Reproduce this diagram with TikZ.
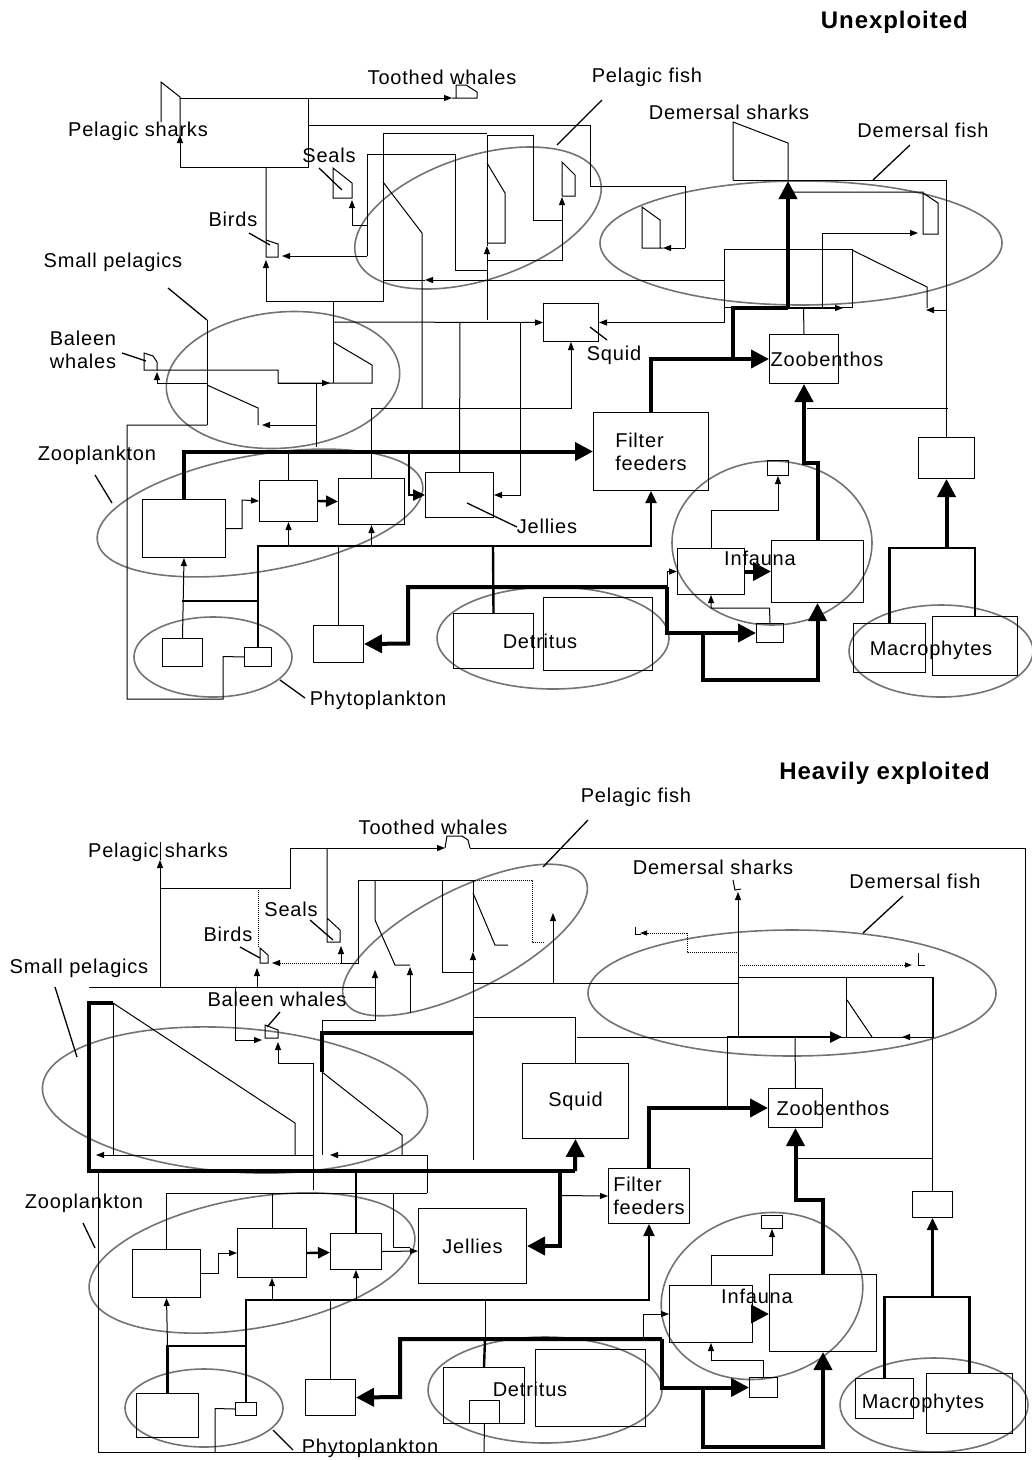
\documentclass[tikz,border=0pt]{standalone}
\usepackage{fontspec}
\setmainfont{Liberation Sans}[LetterSpace=4]
\usepackage{tikz}
\usetikzlibrary{arrows.meta}
\usetikzlibrary{positioning}

\newcommand{\lblfont}{\fontsize{20}{23}\selectfont}
\newcommand{\ttlfont}{\bfseries\fontsize{24}{26}\selectfont}

\tikzset{
  box/.style={draw, line width=1pt, anchor=north west, inner sep=0pt, font=\lblfont, align=left},
  lbl/.style={inner sep=0pt, font=\lblfont},
  ttl/.style={inner sep=0pt, font=\ttlfont, anchor=east},
  flow/.style={line width=1pt},
  medflow/.style={line width=2.4pt},
  bigflow/.style={line width=4pt},
  arr/.style={flow, -{Triangle[length=8pt,width=6pt]}},
  medarr/.style={medflow, -{Triangle[length=12pt,width=11pt]}},
  bigarr/.style={bigflow, -{Triangle[length=18pt,width=18pt]}},
  dots/.style={flow, densely dotted},
  grp/.style={draw=black!55, line width=1.6pt},
  lead/.style={line width=1.3pt},
}

\begin{document}
\begin{tikzpicture}[x=1pt, y=-1pt]
   \useasboundingbox (0,0) rectangle (1032,1460);

   %%% Unexploited
   \draw[grp, rotate around={18:(478,218)}] (478,218) ellipse [x radius=128, y radius=62];
   \draw[grp] (801,243) ellipse [x radius=201, y radius=62];
   \draw[grp, rotate around={5:(283,380)}] (283,380) ellipse [x radius=117, y radius=68];
   \draw[grp, rotate around={10:(260,513)}] (260,513) ellipse [x radius=165, y radius=58];
   \draw[grp] (213,657) ellipse [x radius=79, y radius=40];
   \draw[grp] (553,638) ellipse [x radius=116, y radius=51];
   \draw[grp] (772,543) ellipse [x radius=100, y radius=82];
   \draw[grp] (941,651) ellipse [x radius=92, y radius=46];

   \node[box, minimum width=83pt, minimum height=58pt] (zA) at (142,499) {};
   \node[box, minimum width=58pt, minimum height=41pt] (zB) at (259,480) {};
   \node[box, minimum width=66pt, minimum height=46pt] (zC) at (338,478) {};
   \node[box, minimum width=68pt, minimum height=45pt] (je) at (425,472) {};
   \node[box, minimum width=40pt, minimum height=28pt] (ph1) at (162,638) {};
   \node[box, minimum width=27pt, minimum height=19pt] (ph2) at (244,647) {};
   \node[box, minimum width=50pt, minimum height=37pt] (me) at (313,625) {};
   \node[box, minimum width=80pt, minimum height=55pt] (de1) at (453,613) {};
   \node[box, minimum width=109pt, minimum height=73pt] (de2) at (543,597) {};
   \node[box, minimum width=115pt, minimum height=78pt] (ff) at (593,412) {Filter\\feeders};
   \node[box, minimum width=67pt, minimum height=46pt] (in1) at (677,548) {};
   \node[box, minimum width=92pt, minimum height=62pt] (in2) at (771,540) {};
   \node[box, minimum width=21pt, minimum height=15pt] (inT) at (767,460) {};
   \node[box, minimum width=27pt, minimum height=19pt] (inB) at (756,623) {};
   \node[box, minimum width=72pt, minimum height=49pt] (ma1) at (853,623) {};
   \node[box, minimum width=85pt, minimum height=59pt] (ma2) at (932,616) {};
   \node[box, minimum width=56pt, minimum height=41pt] (rb) at (918,437) {};
   \node[box, minimum width=55pt, minimum height=38pt] (sq) at (543,303) {};
   \node[box, minimum width=69pt, minimum height=49pt] (zb) at (769,334) {};
   \node[box, minimum width=128pt, minimum height=58pt] (dfr) at (724,249) {};

   % top predators
   \draw[flow] (161,122) -- (161,82) -- (180,97) -- (180,137);
   \draw[arr] (180,167) -- (180,135);
   \draw[arr] (180,98) -- (452,98);
   \draw[flow] (452,98) -- (477,98) -- (477,92) -- (466,85) -- (456,85) -- (456,98);
   \draw[flow] (180,167) -- (308,167) -- (308,98);
   \draw[flow] (308,125) -- (590,125) -- (590,186) -- (685,186) -- (685,248);
   \draw[arr] (685,248) -- (663,248);
   \draw[flow] (663,248) -- (642,248) -- (642,207) -- (660,220) -- (660,248);
   \draw[flow] (266,167) -- (266,257) -- (278,257) -- (278,244) -- (266,240);
   \draw[arr] (266,301) -- (266,260);
   \draw[flow] (266,301) -- (383,301) -- (383,133) -- (487,133);
   \draw[flow] (367,154) -- (455,154) -- (455,270) -- (487,270);
   \draw[flow] (367,154) -- (367,256);
   \draw[arr] (367,256) -- (282,256);
   \draw[arr] (367,225) -- (352,225) -- (352,200);
   \draw[flow] (333,168) -- (352,183) -- (352,198) -- (333,198) -- cycle;
   \draw[flow] (422,408) -- (422,233) -- (383,182);
   \draw[arr] (487,320) -- (487,246);
   \draw[flow] (487,246) -- (487,135) -- (533,135) -- (533,220) -- (562,220);
   \draw[flow] (487,163) -- (505,193) -- (505,243) -- (487,243);
   \draw[arr] (487,260) -- (562,260) -- (562,197);
   \draw[flow] (562,196) -- (575,196) -- (575,175) -- (562,162) -- (562,196);
   \draw[arr] (724,280) -- (425,280);
   \draw[flow] (425,280) -- (383,280);
   \draw[arr] (724,250) |- (sq.east);

   % squid and jellies
   \draw[flow] (333,301) -- (333,383);
   \draw[arr] (333,322) -- (sq.west);
   \draw[flow] (460,322) -- (je.north);
   \draw[arr] (520,322) |- (je.east);
   \draw[arr] (zC.north) |- (sq.south |- 0,408) -- (sq.south);

   % small pelagics
   \draw[flow] (207,320) -- (207,425);
   \draw[flow] (207,385) -- (258,408) -- (258,425);
   \draw[flow] (157,370) -- (278,370) -- (278,383) -- (372,383) -- (372,365) -- (333,342);
   \draw[arr] (278,383) -- (330,383);
   \draw[arr] (207,383) -- (157,383) -- (157,372);
   \draw[flow] (144,370) -- (144,353) -- (153,356) -- (157,362) -- (157,370) -- cycle;
   \draw[flow] (316,383) -- (316,447);
   \draw[arr] (316,425) -- (262,425);
   \draw[flow] (207,425) -- (127,425) -- (127,699) -- (223,699) -- (223,656.5) -- (ph2.west);

   % zooplankton
   \draw[bigarr] (zA.north) |- (ff.west);
   \draw[flow] (zB.north) -- ++(0,-29);
   \draw[medarr] (409,451) |- (je.west);
   \draw[arr] (zA.east) -| (242,500) -- (zB.west);
   \draw[medarr] (zB.east) -- (zC.west);
   \draw[medarr] (ph2.north) |- (ff.south |- 0,546) -- (ff.south);
   \draw[arr] (zB.south |- 0,546) -- (zB.south);
   \draw[arr] (zC.south |- 0,546) -- (zC.south);
   \draw[flow] (me.north |- 0,546) -- (me.north);
   \draw[arr] (ph1.north) -- (zA.south);
   \draw[medflow] (182,601) -- (257.5,601);

   % detritus and infauna
   \draw[medflow] (493,546) -- (de1.north);
   \draw[bigarr] (667,587) -- (408,587) -- (408,643.5) -- (me.east);
   \draw[bigarr] (667,587) |- (inB.west);
   \draw[arr] (667,587) |- (in1.west);
   \draw[bigarr] (in1.east) -- (in2.west);
   \draw[arr] (in1.north) |- (inT.south |- 0,510) -- (inT.south);
   \draw[arr] (inB.north) -- (769.5,608) -| (in1.south);
   \draw[bigarr] (703,632) |- (in2.south |- 0,680) -- (in2.south);
   \draw[bigarr] (in2.north) |- (zb.south |- 0,463) -- (zb.south);

   % zoobenthos and demersal
   \draw[bigarr] (ff.north) |- (zb.west);
   \draw[bigflow] (733,358.5) -- (733,308) -- (788,308);
   \draw[bigarr] (788,308) -- (788,181);
   \draw[arr] (788,308) -- (843,308);
   \draw[flow] (zb.north) -- (803.5,308);
   \draw[flow] (807,408) -- (948,408);
   \draw[flow] (733,180) -- (rb.north |- 0,180) -- (rb.north);
   \draw[arr] (946,310) -- (926,310);
   \draw[flow] (733,180) -- (733,122) -- (788,143) -- (788,180);
   \draw[flow] (822,233) -- (822,307);
   \draw[arr] (822,233) -- (918,233);
   \draw[flow] (788,192) -- (923,192) -- (923,234) -- (938,234) -- (938,203) -- (923,193);
   \draw[flow] (852,250) -- (927,287) -- (927,308);
   \draw[medflow] (ma1.north) |- (ma2.north |- 0,548) -- (ma2.north);
   \draw[bigarr] (rb.south |- 0,548) -- (rb.south);

   \node[ttl] (tTitle) at (968,22) {Unexploited};
   \node[lbl] (tTW) at (442,77) {Toothed whales};
   \node[lbl] (tPF) at (647,77) {Pelagic fish};
   \node[lbl] (tPS) at (138,131) {Pelagic sharks};
   \node[lbl] (tDS) at (729,112) {Demersal sharks};
   \node[lbl] (tDF) at (923,130) {Demersal fish};
   \node[lbl] (tSe) at (329,155) {Seals};
   \node[lbl] (tBi) at (233,219) {Birds};
   \node[lbl] (tSP) at (113,262) {Small pelagics};
   \node[lbl, align=left] (tBW) at (83,350) {Baleen\\whales};
   \node[lbl] (tSq) at (614,355) {Squid};
   \node[lbl] (tZp) at (97,455) {Zooplankton};
   \node[lbl] (tJe) at (547,526) {Jellies};
   \node[lbl] (tIn) at (760,558) {Infauna};
   \node[lbl] (tZb) at (827,359) {Zoobenthos};
   \node[lbl] (tDe) at (540,641) {Detritus};
   \node[lbl] (tMa) at (931,650) {Macrophytes};
   \node[lbl] (tPh) at (378,700) {Phytoplankton};

   \draw[lead] (602,100) -- (557,145);
   \draw[lead] (910,145) -- (873,180);
   \draw[lead] (319,168) -- (342,190);
   \draw[lead] (249,233) -- (270,245);
   \draw[lead] (168,288) -- (207,320);
   \draw[lead] (122,353) -- (146,361);
   \draw[lead] (590,327) -- (607,340);
   \draw[lead] (95,475) -- (112,503);
   \draw[lead] (467,503) -- (517,527);
   \draw[lead] (280,680) -- (305,698);

   %%% Heavily exploited
   \draw[grp, rotate around={27:(465,940)}] (465,940) ellipse [x radius=135, y radius=50];
   \draw[grp] (792,993) ellipse [x radius=204, y radius=63];
   \draw[grp, rotate around={-4:(235,1100)}] (235,1100) ellipse [x radius=193, y radius=72];
   \draw[grp, rotate around={10:(252,1263)}] (252,1263) ellipse [x radius=165, y radius=65];
   \draw[grp] (204,1408) ellipse [x radius=79, y radius=39];
   \draw[grp] (545,1390) ellipse [x radius=117, y radius=53];
   \draw[grp, rotate around={15:(762,1296)}] (762,1296) ellipse [x radius=102, y radius=82];
   \draw[grp] (934,1405) ellipse [x radius=94, y radius=47];

   \node[box, minimum width=106pt, minimum height=75pt] (sqB) at (522,1063) {Squid};
   \node[box, minimum width=54pt, minimum height=39pt] (zbB) at (768,1088) {};
   \node[box, minimum width=81pt, minimum height=55pt] (ffB) at (608,1168) {Filter\\feeders};
   \node[box, minimum width=68pt, minimum height=48pt] (zAB) at (132,1249) {};
   \node[box, minimum width=69pt, minimum height=49pt] (zBB) at (237,1228) {};
   \node[box, minimum width=51pt, minimum height=36pt] (zCB) at (330,1233) {};
   \node[box, minimum width=108pt, minimum height=75pt] (jeB) at (418,1208) {Jellies};
   \node[box, minimum width=62pt, minimum height=44pt] (ph1B) at (136,1393) {};
   \node[box, minimum width=21pt, minimum height=13pt] (ph2B) at (235,1402) {};
   \node[box, minimum width=50pt, minimum height=36pt] (meB) at (305,1379) {};
   \node[box, minimum width=81pt, minimum height=56pt] (de1B) at (443,1367) {};
   \node[box, minimum width=30pt, minimum height=23pt] (dsB) at (469,1400) {};
   \node[box, minimum width=110pt, minimum height=77pt] (de2B) at (535,1349) {};
   \node[box, minimum width=83pt, minimum height=57pt] (in1B) at (669,1285) {};
   \node[box, minimum width=107pt, minimum height=77pt] (in2B) at (769,1274) {};
   \node[box, minimum width=21pt, minimum height=13pt] (inTB) at (761,1215) {};
   \node[box, minimum width=28pt, minimum height=20pt] (inBB) at (749,1377) {};
   \node[box, minimum width=40pt, minimum height=26pt] (rbB) at (912,1191) {};
   \node[box, minimum width=58pt, minimum height=40pt] (ma1B) at (855,1378) {};
   \node[box, minimum width=86pt, minimum height=60pt] (ma2B) at (926,1373) {};
   \node[box, minimum width=195pt, minimum height=60pt] (dfrB) at (738,977) {};

   % frame and top predators
   \draw[flow] (98,1172) -- (98,1452) -- (1025,1452) -- (1025,848) -- (470,848);
   \draw[flow] (89,987) -- (375,987);
   \draw[arr] (160,987) -- (160,860);
   \draw[flow] (160,860) -- (160,842);
   \draw[flow] (160,888) -- (290,888) -- (290,848);
   \draw[arr] (290,848) -- (445,848);
   \draw[flow] (445,848) -- (447,836) -- (462,836) -- (468,840) -- (470,848);
   \draw[dots] (258,888) -- (258,948);
   \draw[flow] (260,963) -- (260,948) -- (268,955) -- (268,963) -- cycle;
   \draw[arr] (257,987) -- (257,968);
   \draw[dots, -{Triangle[length=8pt,width=6pt]}] (343,963) -- (272,963);
   \draw[flow] (327,848) -- (327,918) -- (340,930) -- (340,942) -- (327,942) -- (327,918);
   \draw[arr] (341,963) -- (341,946);
   \draw[flow] (341,963) -- (358,963) -- (358,880) -- (475,880);
   \draw[dots] (475,880) -- (532,880) -- (532,942) -- (545,942);
   \draw[flow] (375,880) -- (375,920) -- (395,965) -- (410,965);
   \draw[arr] (410,1013) -- (410,967);
   \draw[arr] (323,1020) -- (375,1020) -- (375,970);
   \draw[flow] (442,880) -- (442,972) -- (473,972);
   \draw[flow] (473,893) -- (495,945) -- (508,945);
   \draw[arr] (473,1160) -- (473,952);
   \draw[flow] (473,952) -- (473,880);
   \draw[flow] (473,983) -- (738,983);
   \draw[flow] (473,1017) -| (sqB.north);
   \draw[arr] (553,983) -- (553,913);

   % demersal
   \draw[arr] (738,1037) -- (738,892);
   \draw[flow] (733,880) -- (735,890) -- (741,889);
   \draw[dots, -{Triangle[length=7pt,width=5pt]}] (687,933) -- (640,933);
   \draw[flow] (635,927) -- (635,934) -- (641,934);
   \draw[dots] (687,933) -- (687,952) -- (738,952);
   \draw[dots, -{Triangle[length=7pt,width=5pt]}] (738,965) -- (912,965);
   \draw[flow] (918,953) -- (918,965) -- (925,965);
   \draw[flow] (846,977) -- (846,1037);
   \draw[flow] (847,1000) -- (872,1037);
   \draw[flow] (rbB.north |- dfrB.north east) -- (rbB.north);
   \draw[flow] (577,1037) -- (727,1037);
   \draw[medarr] (727,1037) -- (842,1037);
   \draw[arr] (932,1037) -- (902,1037);
   \draw[flow] (727,1037) -- (727,1107);
   \draw[bigarr] (ffB.north) |- (zbB.west);
   \draw[flow] (795,1037) -- (zbB.north);
   \draw[bigarr] (in2B.north) |- (zbB.south |- 0,1200) -- (zbB.south);
   \draw[flow] (797,1158) -- (932,1158);
   \draw[medarr] (rbB.south |- 0,1297) -- (rbB.south);
   \draw[medflow] (ma1B.north) |- (ma2B.north |- 0,1297) -- (ma2B.north);

   % small pelagics
   \draw[bigflow] (113,1003) -- (89,1003) -- (89,1171) -- (575,1171);
   \draw[bigarr] (575,1171) -- (sqB.south);
   \draw[bigarr] (560,1171) |- (jeB.east);
   \draw[arr] (560,1195.5) -- (ffB.west);
   \draw[flow] (113,1003) -- (113,1155);
   \draw[flow] (113,1003) -- (295,1123) -- (295,1155);
   \draw[arr] (313,1190) -- (313,1155) -- (96,1155);
   \draw[flow] (322,1020) -- (322,1155);
   \draw[bigflow] (322,1072) -- (322,1033) -- (473,1033);
   \draw[flow] (322,1072) -- (402,1135) -- (402,1155);
   \draw[arr] (427,1193) -- (427,1155) -- (330,1155);
   \draw[arr] (235,987) -- (235,1040) -- (262,1040);
   \draw[flow] (265,1038) -- (265,1025) -- (278,1030) -- (278,1038) -- cycle;
   \draw[arr] (313,1155) -- (313,1063) -- (278,1063) -- (278,1042);

   % zooplankton
   \draw[flow] (zAB.north) |- (427,1193);
   \draw[flow] (zBB.north) -- (zBB.north |- 0,1193);
   \draw[medflow] (zCB.north |- 0,1171) -- (zCB.north);
   \draw[flow] (393,1193) -- (393,1247) -- (410,1247);
   \draw[arr] (zAB.east) -| (218,1253) -- (237,1253);
   \draw[medarr] (zBB.east) -- (330,1252.5);
   \draw[arr] (zCB.east) -- (418,1251);
   \draw[medarr] (ph2B.north) |- (ffB.south |- 0,1300) -- (ffB.south);
   \draw[arr] (zBB.south |- 0,1300) -- (zBB.south);
   \draw[arr] (zCB.south |- 0,1300) -- (zCB.south);
   \draw[flow] (meB.north |- 0,1300) -- (meB.north);
   \draw[flow] (485,1300) -- (485,1339);
   \draw[medflow] (ph1B.north) |- (ph2B.north |- 0,1346);
   \draw[arr] (ph1B.north |- 0,1346) -- (zAB.south);
   \draw[flow] (215,1452) -- (215,1408.5) -- (ph2B.west);

   % detritus and infauna
   \draw[bigarr] (662,1339) -- (400,1339) -- (400,1397) -- (meB.east);
   \draw[medflow] (485,1339) -- (de1B.north);
   \draw[bigarr] (662,1339) |- (inBB.west);
   \draw[arr] (643,1339) |- (in1B.west);
   \draw[flow] (dsB.south) -- (484,1452);
   \draw[bigarr] (in1B.east) -- (in2B.west |- in1B.east);
   \draw[arr] (in1B.north) |- (inTB.south |- 0,1255) -- (inTB.south);
   \draw[arr] (inBB.north) -- (inBB.north |- 0,1360) -| (in1B.south);
   \draw[bigarr] (703,1387) |- (in2B.south |- 0,1447) -- (in2B.south);

   \node[ttl] (bTitle) at (990,773) {Heavily exploited};
   \node[lbl] (bPF) at (636,797) {Pelagic fish};
   \node[lbl] (bTW) at (433,827) {Toothed whales};
   \node[lbl] (bPS) at (158,852) {Pelagic sharks};
   \node[lbl] (bDS) at (713,867) {Demersal sharks};
   \node[lbl] (bDF) at (915,881) {Demersal fish};
   \node[lbl] (bSe) at (291,909) {Seals};
   \node[lbl] (bBi) at (228,934) {Birds};
   \node[lbl] (bSP) at (79,968) {Small pelagics};
   \node[lbl] (bBW) at (277,999) {Baleen whales};
   \node[lbl] (bZb) at (833,1108) {Zoobenthos};
   \node[lbl] (bZp) at (84,1203) {Zooplankton};
   \node[lbl] (bIn) at (757,1296) {Infauna};
   \node[lbl] (bDe) at (530,1389) {Detritus};
   \node[lbl] (bMa) at (923,1403) {Macrophytes};
   \node[lbl] (bPh) at (370,1448) {Phytoplankton};

   \draw[lead] (588,820) -- (543,867);
   \draw[lead] (903,896) -- (863,933);
   \draw[lead] (310,920) -- (333,940);
   \draw[lead] (240,947) -- (260,958);
   \draw[lead] (55,987) -- (77,1057);
   \draw[lead] (280,1012) -- (267,1027);
   \draw[lead] (83,1223) -- (95,1248);
   \draw[lead] (273,1430) -- (293,1450);
\end{tikzpicture}
\end{document}
